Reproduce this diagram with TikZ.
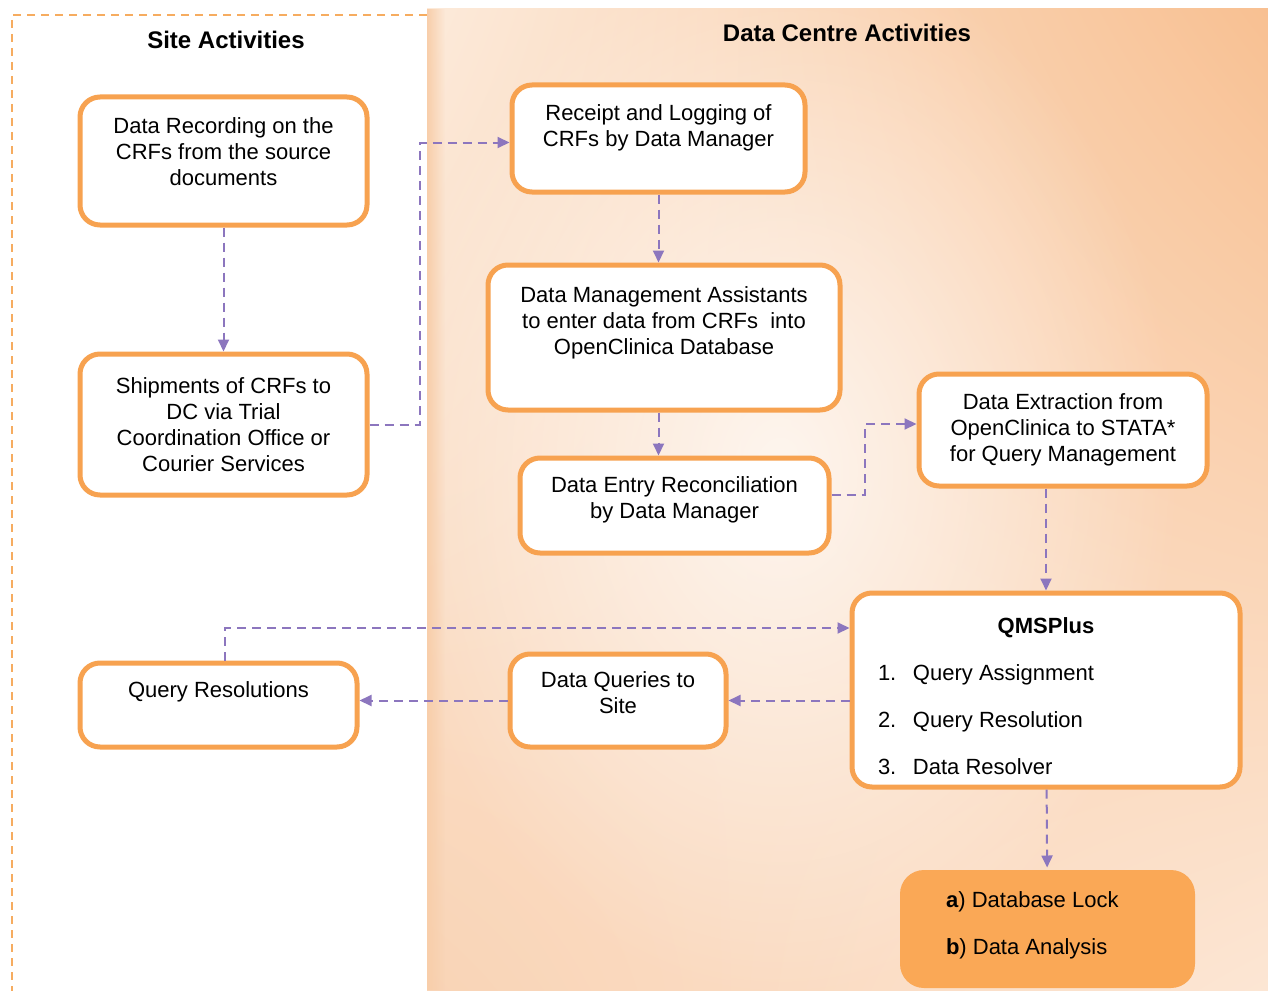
\documentclass[tikz,border=0pt]{standalone}
\usepackage{fontspec}
\setmainfont{Liberation Sans}
\usetikzlibrary{arrows, arrows.meta}
\usetikzlibrary{calc}
\usetikzlibrary{fadings, shadings}

\definecolor{boxorange}{RGB}{247,162,80}
\definecolor{lockorange}{RGB}{250,168,86}
\definecolor{flowpurple}{RGB}{140,118,190}
\definecolor{sitedash}{RGB}{246,172,96}
\definecolor{panelul}{RGB}{252,234,218}
\definecolor{panelur}{RGB}{248,192,146}
\definecolor{panelll}{RGB}{249,212,182}
\definecolor{panellr}{RGB}{252,230,212}
\definecolor{paneledge}{RGB}{248,206,170}

\tikzfading[name=centreglow, inner color=transparent!25, outer color=transparent!100]

\begin{document}
\begin{tikzpicture}[x=0.5pt, y=-0.5pt,
    box/.style={draw=boxorange, line width=2.5pt, rounded corners=10pt, fill=white,
      align=center, inner sep=2pt, font=\fontsize{11}{13}\selectfont},
    flow/.style={draw=flowpurple, line width=1pt, dash pattern=on 4.5pt off 3pt,
      -{Triangle[length=6pt, width=5.5pt]}},
    heading/.style={font=\fontsize{12}{14}\selectfont\bfseries}]
    \useasboundingbox (0,0) rectangle (1268,990);

    % panels
    \shade[upper left=panelul, upper right=panelur, lower left=panelll, lower right=panellr]
      (427,9) rectangle (1268,990);
    \fill[white, path fading=centreglow] (380,-60) rectangle (1180,1000);
    \fill[paneledge, path fading=east] (427,9) rectangle (445,990);
    \draw[sitedash, line width=1pt, dash pattern=on 4pt off 3pt] (427,15) -- (12,15) -- (12,995);

    \node[heading] (site) at (226,40) {Site Activities};
    \node[heading] (dc) at (847,33) {Data Centre Activities};

    \node[box, minimum width=143.5pt, minimum height=64pt] (1) at (223.5,161)
      {Data Recording on the\\CRFs from the source\\documents\\[-4pt]\mbox{}};
    \node[box, minimum width=143.5pt, minimum height=70.5pt] (2) at (223.5,424.5)
      {Shipments of CRFs to\\DC via Trial\\Coordination Office or\\Courier Services};
    \node[box, minimum width=146.5pt, minimum height=53.5pt] (3) at (658.5,138.5)
      {Receipt and Logging of\\CRFs by Data Manager\\\mbox{}};
    \node[box, minimum width=176pt, minimum height=72.5pt] (4) at (664,337.5)
      {Data Management Assistants\\to enter data from CRFs\ \ into\\OpenClinica Database\\[4pt]\mbox{}};
    \node[box, minimum width=154.5pt, minimum height=47.5pt] (5) at (674.5,505.5)
      {Data Entry Reconciliation\\by Data Manager\\[-5pt]\mbox{}};
    \node[box, minimum width=144pt, minimum height=56pt] (6) at (1063,430)
      {Data Extraction from\\OpenClinica to STATA*\\for Query Management};
    \node[box, minimum width=194pt, minimum height=97pt] (7) at (1046,690)
      {\rule{0pt}{14pt}\textbf{QMSPlus}\\[10.5pt]
       \makebox[168pt][l]{\makebox[17.5pt][l]{1.}Query Assignment}\\[10.5pt]
       \makebox[168pt][l]{\makebox[17.5pt][l]{2.}Query Resolution}\\[10.5pt]
       \makebox[168pt][l]{\makebox[17.5pt][l]{3.}Data Resolver}};
    \node[box, minimum width=138.5pt, minimum height=42pt] (8) at (218.5,705)
      {Query Resolutions\\[2pt]\mbox{}};
    \node[box, minimum width=108pt, minimum height=46.5pt] (9) at (618,700.5)
      {Data Queries to\\Site\\[-5.5pt]\mbox{}};
    \node[box, draw=none, fill=lockorange, rounded corners=12pt, minimum width=147.5pt,
      minimum height=59pt] (10) at (1047.5,929)
      {\makebox[101.5pt][l]{\textbf{a}) Database Lock}\\[10.5pt]
       \makebox[101.5pt][l]{\textbf{b}) Data Analysis}\\[-7pt]\mbox{}};

    \draw[flow] (1) -- (2);
    \draw[flow] (2.east) -- ++(50,0) |- ([yshift=-2pt]3.west);
    \draw[flow] (3.south) -- (3.south |- 4.north);
    \draw[flow] (4.south -| 3.south) -- (3.south |- 5.north);
    \draw[flow] ([yshift=5.5pt]5.east) -- ++(33,0) |- ([yshift=3pt]6.west);
    \draw[flow] (6.south -| 7.north) -- (7.north);
    \draw[flow] ([xshift=3pt]8.north) |- ([yshift=31pt]7.west);
    \draw[flow] (9.east -| 7.west) -- (9.east);
    \draw[flow] (9.west) -- (9.west -| 8.east);
    \draw[flow] (7) -- (10);
  \end{tikzpicture}
\end{document}
